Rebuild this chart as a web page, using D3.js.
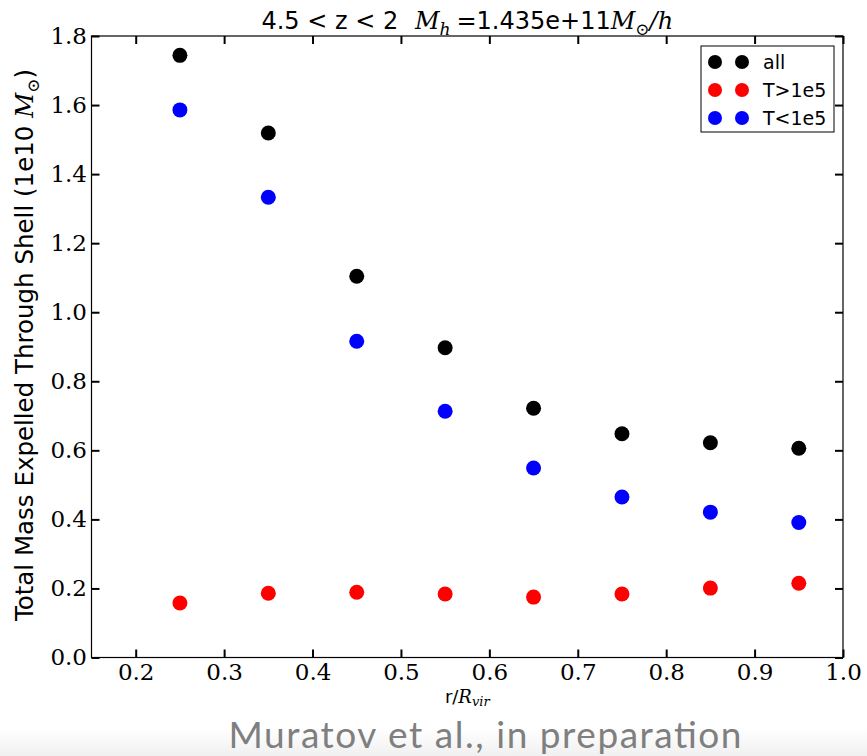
<!DOCTYPE html>
<html>
<head>
<meta charset="utf-8">
<script src="https://cdn.jsdelivr.net/npm/d3@7"></script>
<style>
  html, body { margin: 0; padding: 0; background: #fff; }
  svg { display: block; }
</style>
</head>
<body>
<svg id="chart" width="867" height="756"></svg>
<script>
// Shell radius in units of the virial radius
const radii = [0.25, 0.35, 0.45, 0.55, 0.65, 0.75, 0.85, 0.95];
// Total mass expelled through each shell (1e10 Msun)
const massAll  = [1.744, 1.519, 1.104, 0.897, 0.722, 0.648, 0.622, 0.606];
const massHot  = [0.158, 0.186, 0.189, 0.184, 0.175, 0.184, 0.201, 0.215];
const massCold = [1.586, 1.333, 0.916, 0.713, 0.549, 0.465, 0.421, 0.391];

const seriesNames  = ["all", "T>1e5", "T<1e5"];
const seriesColors = ["#000000", "#ff0000", "#0000ff"];
const seriesValues = [massAll, massHot, massCold];

const xTicks = [0.2, 0.3, 0.4, 0.5, 0.6, 0.7, 0.8, 0.9, 1.0];
const yTicks = [0.0, 0.2, 0.4, 0.6, 0.8, 1.0, 1.2, 1.4, 1.6, 1.8];

const SANS = "'DejaVu Sans', Verdana, sans-serif";
const SERIF = "'DejaVu Serif', serif";

const svg = d3.select("#chart");
const W = 867, H = 756;
const plot = { left: 91.5, right: 843, top: 36, bottom: 657.5 };

const x = d3.scaleLinear().domain([0.15, 1.0]).range([plot.left, plot.right]);
const y = d3.scaleLinear().domain([0, 1.8]).range([plot.bottom, plot.top]);

// faint grey band behind the footer
const grad = svg.append("defs").append("linearGradient")
  .attr("id", "foot").attr("x1", 0).attr("y1", 0).attr("x2", 0).attr("y2", 1);
grad.append("stop").attr("offset", "0%").attr("stop-color", "#ffffff");
grad.append("stop").attr("offset", "100%").attr("stop-color", "#f0f0f0");
svg.append("rect").attr("x", 0).attr("y", 728).attr("width", W).attr("height", H - 728)
  .attr("fill", "url(#foot)");

// axes with inward ticks on all four sides
const tickLen = 8;
const axBottom = d3.axisBottom(x).tickValues(xTicks).tickSize(-tickLen).tickPadding(6)
  .tickFormat(d3.format(".1f"));
const axTop = d3.axisTop(x).tickValues(xTicks).tickSize(-tickLen).tickFormat("");
const axLeft = d3.axisLeft(y).tickValues(yTicks).tickSize(-tickLen).tickPadding(4.5)
  .tickFormat(d3.format(".1f"));
const axRight = d3.axisRight(y).tickValues(yTicks).tickSize(-tickLen).tickFormat("");

function styleAxis(g) {
  g.attr("font-family", null).attr("font-size", null);
  g.select(".domain").remove();
  g.selectAll(".tick line").attr("stroke", "#000").attr("stroke-width", 2);
  g.selectAll(".tick text")
    .style("font-family", SERIF).style("font-size", "23px").attr("fill", "#000");
}
svg.append("g").attr("transform", `translate(0,${plot.bottom})`).call(axBottom).call(styleAxis);
svg.append("g").attr("transform", `translate(0,${plot.top})`).call(axTop).call(styleAxis);
svg.append("g").attr("transform", `translate(${plot.left},0)`).call(axLeft).call(styleAxis);
svg.append("g").attr("transform", `translate(${plot.right},0)`).call(axRight).call(styleAxis);

// frame
svg.append("rect")
  .attr("x", plot.left).attr("y", plot.top)
  .attr("width", plot.right - plot.left).attr("height", plot.bottom - plot.top)
  .attr("fill", "none").attr("stroke", "#000").attr("stroke-width", 1.2);

// markers
const r = 7.5;
seriesValues.forEach((vals, i) => {
  svg.append("g").selectAll("circle")
    .data(vals)
    .join("circle")
    .attr("cx", (d, j) => x(radii[j]))
    .attr("cy", d => y(d))
    .attr("r", r)
    .attr("fill", seriesColors[i]);
});

function mathSpan(parent, txt, size, dy) {
  const t = parent.append("tspan").style("font-family", SERIF).style("font-style", "italic").text(txt);
  if (size) t.style("font-size", size + "px");
  if (dy) t.attr("dy", dy);
  return t;
}

// title
const cx = (plot.left + plot.right) / 2;
const title = svg.append("text").attr("x", cx).attr("y", 29)
  .attr("text-anchor", "middle").style("font-family", SANS).style("font-size", "24px");
title.append("tspan").text("4.5 < z < 2\u2002\u2009");
mathSpan(title, "M");
mathSpan(title, "h", 17, 6);
title.append("tspan").attr("dy", -6).text("\u2005=1.435e+11");
mathSpan(title, "M");
mathSpan(title, "\u2299", 17, 6);
mathSpan(title, "/h", null, -6);

// y-axis label
const yl = svg.append("text")
  .attr("transform", `translate(33,345) rotate(-90)`)
  .attr("text-anchor", "middle").style("font-family", SANS).style("font-size", "24.5px");
yl.append("tspan").text("Total Mass Expelled Through Shell (1e10 ");
mathSpan(yl, "M");
mathSpan(yl, "\u2299", 17, 6);
yl.append("tspan").attr("dy", -6).text(")");

// x-axis label
const xl = svg.append("text").attr("x", cx).attr("y", 703)
  .attr("text-anchor", "middle").style("font-family", SANS).style("font-size", "18px");
xl.append("tspan").text("r/");
mathSpan(xl, "R");
mathSpan(xl, "vir", 13, 3);

// legend
const lg = svg.append("g");
lg.append("rect").attr("x", 701).attr("y", 46).attr("width", 133).attr("height", 86)
  .attr("fill", "#fff").attr("stroke", "#000").attr("stroke-width", 1);
seriesNames.forEach((name, i) => {
  const ly = 62 + i * 28;
  [715, 742].forEach(px => {
    lg.append("circle").attr("cx", px).attr("cy", ly).attr("r", 7).attr("fill", seriesColors[i]);
  });
  lg.append("text").attr("x", 763).attr("y", ly + 7)
    .style("font-family", SANS).style("font-size", "19px").text(name);
});

// footer credit
svg.append("text").attr("x", 485).attr("y", 748)
  .attr("text-anchor", "middle").style("font-family", "Lato, 'Open Sans', sans-serif")
  .style("font-size", "37px").attr("fill", "#7f7f7f")
  .attr("textLength", 513).attr("lengthAdjust", "spacing")
  .text("Muratov et al., in preparation");
</script>
</body>
</html>
